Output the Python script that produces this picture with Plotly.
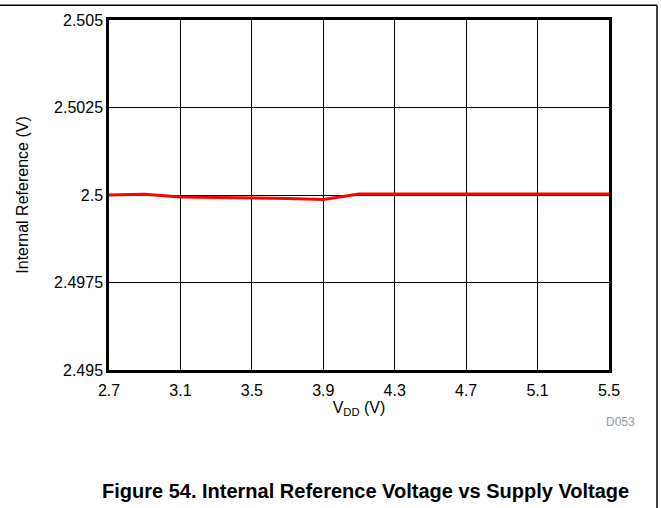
import plotly.graph_objects as go

vdd = [2.7, 2.9, 3.1, 3.3, 3.5, 3.7, 3.9, 4.1, 4.3, 4.5, 4.7, 4.9, 5.1, 5.3, 5.5]
vref = [2.50000, 2.50002, 2.49994, 2.49993, 2.49992, 2.49990, 2.49987,
        2.50003, 2.50003, 2.50003, 2.50004, 2.50004, 2.50003, 2.50002, 2.50003]

x_ticks = [2.7, 3.1, 3.5, 3.9, 4.3, 4.7, 5.1, 5.5]
x_labels = ["2.7", "3.1", "3.5", "3.9", "4.3", "4.7", "5.1", "5.5"]
y_ticks = [2.495, 2.4975, 2.5, 2.5025, 2.505]
y_labels = ["2.495", "2.4975", "2.5", "2.5025", "2.505"]

FONT = "Liberation Sans, Arial, sans-serif"

fig = go.Figure()
fig.add_trace(go.Scatter(x=vdd, y=vref, mode="lines",
                         line=dict(color="#ff0000", width=3),
                         showlegend=False))

fig.update_layout(
    width=661, height=508,
    margin=dict(l=109, r=52, t=17, b=138),
    paper_bgcolor="white", plot_bgcolor="white",
    font=dict(family=FONT, size=16, color="black"),
    xaxis=dict(range=[2.7, 5.5], tickvals=x_ticks, ticktext=x_labels,
               showgrid=True, gridcolor="black", gridwidth=1,
               showline=True, linecolor="black", linewidth=2.5, mirror=True,
               ticks="", zeroline=False, tickfont=dict(size=16),
               ticklabelstandoff=4,
               title=dict(text="V<sub>DD</sub> (V)", standoff=0,
                          font=dict(size=16))),
    yaxis=dict(range=[2.495, 2.505], tickvals=y_ticks, ticktext=y_labels,
               showgrid=True, gridcolor="black", gridwidth=1,
               showline=True, linecolor="black", linewidth=2.5, mirror=True,
               ticks="", zeroline=False, tickfont=dict(size=16),
               title=dict(text="Internal Reference (V)", standoff=22,
                          font=dict(size=16))),
    annotations=[
        dict(text="D053", x=1.022, y=-0.15, xref="paper", yref="paper",
             xanchor="center", yanchor="middle",
             showarrow=False, font=dict(size=12, color="#999999")),
        dict(text="<b>Figure 54. Internal Reference Voltage vs Supply Voltage</b>",
             x=0.513, y=-0.3456, xref="paper", yref="paper",
             xanchor="center", yanchor="middle", showarrow=False,
             font=dict(size=20, color="black")),
    ],
    shapes=[
        dict(type="line", xref="paper", yref="paper", x0=-0.25, x1=1.096,
             y0=1.0425, y1=1.0425, line=dict(color="black", width=1.5)),
        dict(type="line", xref="paper", yref="paper", x0=1.096, x1=1.096,
             y0=1.0425, y1=-0.4, line=dict(color="black", width=1.5)),
    ],
)

fig.write_html("out.html", config={"displayModeBar": False},
               post_script="document.body.style.margin='0';document.body.style.overflow='hidden';")
